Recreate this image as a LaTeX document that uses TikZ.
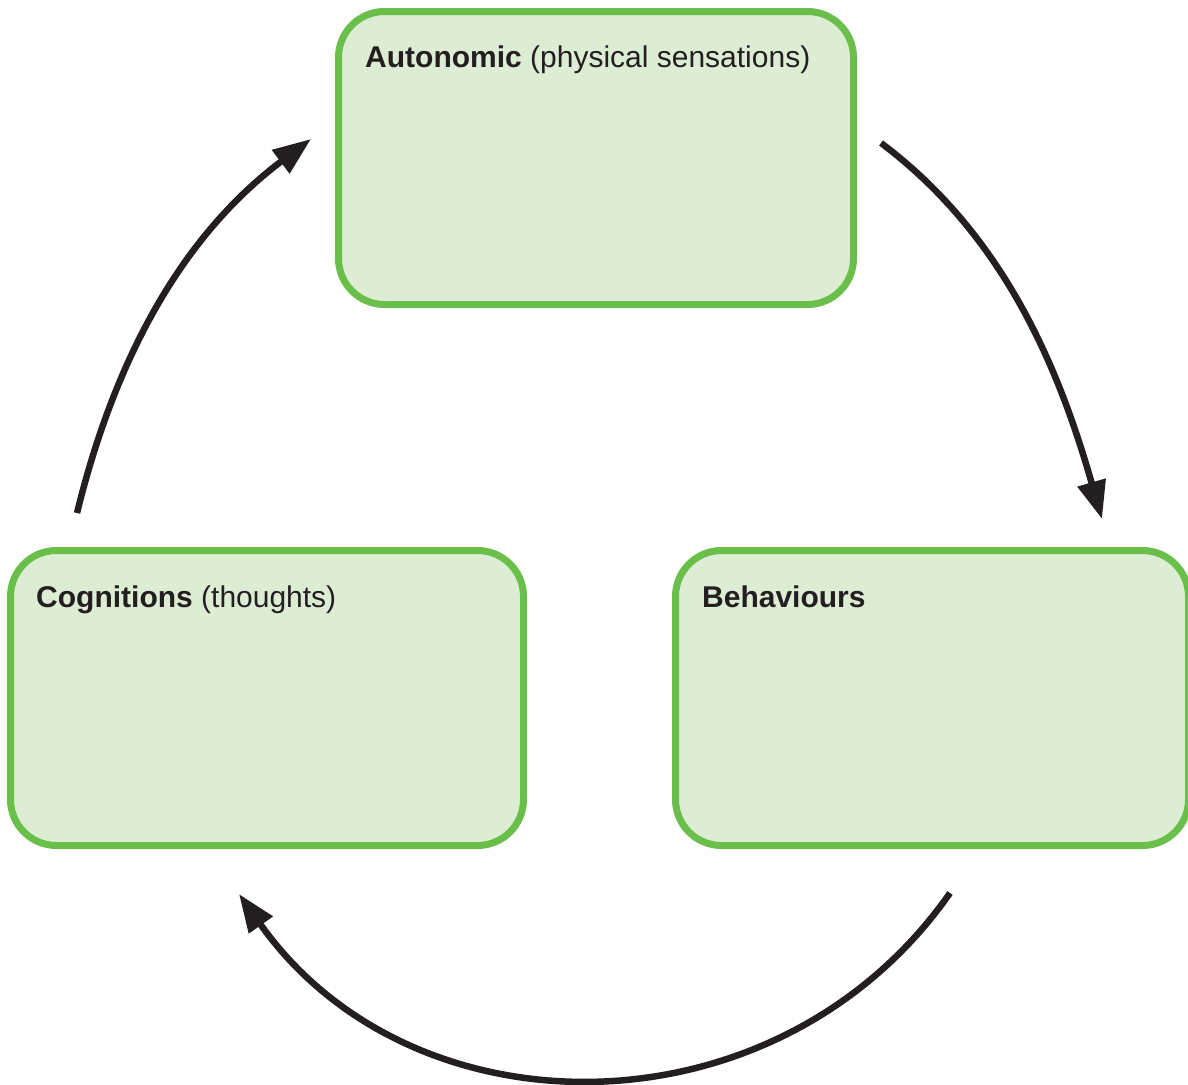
\documentclass[tikz,border=0pt]{standalone}
\usepackage{fontspec}
\setmainfont{Liberation Sans}
\usetikzlibrary{arrows.meta}
\definecolor{boxgreen}{HTML}{6ABE4A}
\definecolor{boxfill}{HTML}{DDEDD4}
\definecolor{ink}{HTML}{231F20}
\tikzset{
  panel/.style={draw=boxgreen, fill=boxfill, line width=7pt, rounded corners=46pt, inner sep=0pt},
  label/.style={anchor=base west, inner sep=0pt, text=ink, font=\fontsize{30}{36}\selectfont},
  cyc/.style={draw=ink, line width=6.5pt, -{Triangle[length=38pt,width=28pt]}}
}
\begin{document}
\begin{tikzpicture}[x=1pt,y=-1pt]
\useasboundingbox (0,0) rectangle (1188,1084);
\node[panel, minimum width=515pt, minimum height=293pt] (auto) at (596,158) {};
\node[panel, minimum width=513pt, minimum height=295pt] (cog) at (267,698) {};
\node[panel, minimum width=513pt, minimum height=295pt] (beh) at (932,698) {};
\node[label] (autot) at (365,67) {\textbf{Autonomic} (physical sensations)};
\node[label] (cogt) at (36,607) {\textbf{Cognitions} (thoughts)};
\node[label] (beht) at (702,607) {\textbf{Behaviours}};
\coordinate (a1s) at (77,513);
\coordinate (a1e) at (311,139);
\coordinate (a2s) at (881,143);
\coordinate (a2e) at (1102,519);
\coordinate (a3s) at (950,893);
\coordinate (a3e) at (239,894);
\draw[cyc] (a1s) .. controls (115,358) and (182,236) .. (a1e);
\draw[cyc] (a2s) .. controls (1005,236) and (1059,369) .. (a2e);
\draw[cyc] (a3s) .. controls (778,1139) and (413,1140) .. (a3e);
\end{tikzpicture}
\end{document}
